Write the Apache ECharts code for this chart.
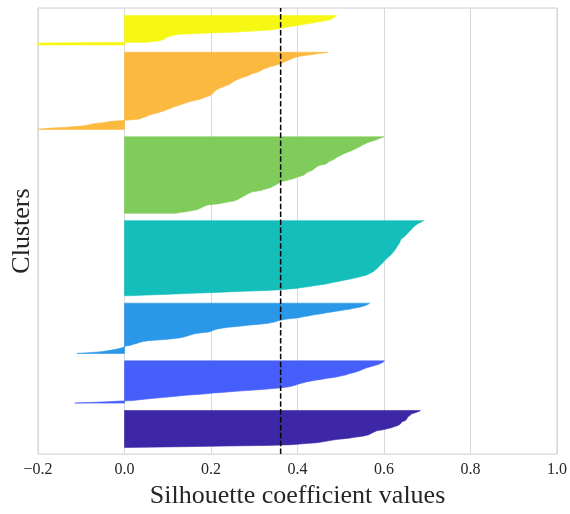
<!DOCTYPE html>
<html>
<head>
<meta charset="utf-8">
<script src="https://cdn.jsdelivr.net/npm/echarts@6/dist/echarts.min.js"></script>
<style>html,body{margin:0;padding:0;background:#fff}#chart{width:570px;height:514px}</style>
</head>
<body>
<div id="chart"></div>
<script>
// Sorted silhouette values per cluster (bottom cluster first)
var cluster0 = [0.01,0.13,0.23,0.33,0.385,0.405,0.425,0.445,0.455,0.465,0.472,0.482,0.494,0.508,0.522,0.531,0.542,0.553,0.56,0.565,0.568,0.571,0.574,0.577,0.581,0.585,0.595,0.603,0.609,0.615,0.62,0.625,0.629,0.633,0.636,0.638,0.639,0.64,0.641,0.645,0.649,0.651,0.652,0.653,0.654,0.655,0.656,0.659,0.661,0.662,0.664,0.669,0.674,0.678,0.682,0.684];
var cluster1 = [-0.115,-0.08,-0.04,-0.01,0.02,0.035,0.05,0.065,0.08,0.1,0.115,0.13,0.148,0.17,0.19,0.205,0.225,0.245,0.265,0.29,0.31,0.33,0.35,0.365,0.377,0.385,0.39,0.396,0.4,0.405,0.411,0.417,0.423,0.432,0.441,0.45,0.46,0.469,0.48,0.49,0.497,0.505,0.511,0.516,0.521,0.527,0.533,0.538,0.542,0.546,0.55,0.553,0.557,0.562,0.567,0.573,0.578,0.583,0.588,0.592,0.595,0.598,0.599,0.601];
var cluster2 = [-0.11,-0.085,-0.065,-0.05,-0.04,-0.03,-0.022,-0.014,-0.008,-0.004,-0.001,0.003,0.012,0.018,0.022,0.028,0.033,0.038,0.044,0.055,0.075,0.095,0.11,0.125,0.133,0.139,0.145,0.15,0.155,0.16,0.168,0.18,0.195,0.2,0.203,0.207,0.212,0.218,0.228,0.24,0.255,0.27,0.285,0.3,0.318,0.332,0.34,0.347,0.352,0.357,0.364,0.372,0.385,0.399,0.408,0.415,0.425,0.432,0.442,0.452,0.461,0.47,0.48,0.49,0.5,0.51,0.52,0.527,0.535,0.543,0.55,0.555,0.559,0.562,0.565,0.567];
var cluster3 = [0.01,0.05,0.09,0.13,0.17,0.21,0.25,0.29,0.33,0.36,0.38,0.397,0.407,0.418,0.428,0.438,0.45,0.459,0.468,0.476,0.484,0.491,0.499,0.507,0.514,0.522,0.529,0.536,0.542,0.548,0.554,0.56,0.563,0.566,0.569,0.572,0.575,0.577,0.579,0.581,0.583,0.584,0.586,0.588,0.589,0.59,0.592,0.593,0.595,0.597,0.598,0.6,0.601,0.602,0.604,0.606,0.607,0.609,0.611,0.612,0.614,0.616,0.617,0.619,0.62,0.621,0.623,0.624,0.625,0.626,0.627,0.628,0.629,0.63,0.631,0.632,0.633,0.634,0.635,0.636,0.637,0.637,0.638,0.638,0.639,0.641,0.643,0.645,0.647,0.648,0.65,0.652,0.653,0.654,0.656,0.657,0.659,0.66,0.662,0.663,0.665,0.666,0.668,0.669,0.671,0.673,0.675,0.677,0.68,0.683,0.686,0.689,0.692];
var cluster4 = [0.12,0.127,0.138,0.148,0.158,0.165,0.17,0.173,0.177,0.18,0.183,0.187,0.19,0.2,0.215,0.224,0.233,0.241,0.25,0.257,0.26,0.263,0.266,0.268,0.272,0.274,0.277,0.28,0.283,0.285,0.288,0.292,0.295,0.305,0.315,0.32,0.326,0.331,0.336,0.34,0.343,0.346,0.349,0.352,0.354,0.357,0.359,0.362,0.368,0.374,0.38,0.387,0.392,0.396,0.4,0.405,0.411,0.415,0.417,0.419,0.421,0.423,0.426,0.43,0.434,0.436,0.438,0.44,0.442,0.444,0.446,0.448,0.455,0.465,0.467,0.469,0.471,0.473,0.476,0.48,0.483,0.486,0.488,0.49,0.493,0.496,0.498,0.502,0.505,0.508,0.512,0.516,0.52,0.524,0.527,0.53,0.534,0.537,0.54,0.543,0.546,0.548,0.551,0.555,0.558,0.561,0.565,0.57,0.575,0.58,0.584,0.588,0.591,0.595,0.6];
var cluster5 = [-0.2,-0.19,-0.17,-0.14,-0.12,-0.1,-0.09,-0.08,-0.075,-0.065,-0.05,-0.04,-0.03,-0.01,0.01,0.03,0.037,0.04,0.045,0.05,0.053,0.056,0.061,0.067,0.072,0.078,0.083,0.088,0.093,0.096,0.101,0.106,0.109,0.112,0.116,0.121,0.126,0.13,0.135,0.139,0.144,0.149,0.155,0.162,0.168,0.174,0.18,0.183,0.186,0.191,0.196,0.199,0.201,0.203,0.205,0.206,0.207,0.209,0.21,0.213,0.216,0.219,0.222,0.226,0.23,0.234,0.238,0.242,0.245,0.247,0.249,0.252,0.254,0.257,0.26,0.263,0.267,0.272,0.276,0.281,0.286,0.289,0.292,0.295,0.3,0.306,0.31,0.313,0.316,0.319,0.322,0.326,0.331,0.335,0.34,0.346,0.351,0.357,0.361,0.364,0.368,0.371,0.375,0.378,0.382,0.385,0.389,0.393,0.398,0.405,0.415,0.425,0.438,0.448,0.46,0.47];
var cluster6 = [-0.2,-0.2,-0.2,-0.19,0.05,0.07,0.08,0.085,0.09,0.093,0.095,0.098,0.1,0.105,0.113,0.12,0.128,0.17,0.21,0.25,0.28,0.31,0.33,0.345,0.355,0.363,0.372,0.38,0.39,0.4,0.41,0.418,0.428,0.437,0.445,0.455,0.464,0.471,0.476,0.48,0.483,0.485,0.487,0.488,0.49];

var clusterValues = [cluster0, cluster1, cluster2, cluster3, cluster4, cluster5, cluster6];
var clusterColors = ['#3d27a7', '#465efa', '#2a97e8', '#14bebb', '#80cc5a', '#fbb940', '#f7f714'];
var silhouetteAvg = 0.361;
var xTicks = [-0.2, 0.0, 0.2, 0.4, 0.6, 0.8, 1.0];

var gap = 10;
var nTotal = 0;
clusterValues.forEach(function (c) { nTotal += c.length; });
var yMax = nTotal + (clusterValues.length + 1) * gap;

// y_lower positions for each cluster
var yLowers = [];
var yl = gap;
clusterValues.forEach(function (c) { yLowers.push(yl); yl += c.length + gap; });

var series = clusterValues.map(function (vals, k) {
  return {
    type: 'custom',
    coordinateSystem: 'cartesian2d',
    silent: true,
    clip: true,
    data: [[0, yLowers[k]]],
    encode: { x: 0, y: 1 },
    renderItem: function (params, api) {
      var base = yLowers[k];
      var pts = [api.coord([0, base])];
      for (var i = 0; i < vals.length; i++) pts.push(api.coord([vals[i], base + i]));
      pts.push(api.coord([0, base + vals.length - 1]));
      return {
        type: 'polygon',
        shape: { points: pts },
        style: { fill: clusterColors[k], stroke: clusterColors[k], lineWidth: 0.6 }
      };
    },
    z: 2
  };
});

series.push({
  type: 'line',
  data: [[silhouetteAvg, 0], [silhouetteAvg, yMax]],
  symbol: 'none',
  silent: true,
  lineStyle: { color: '#000', width: 1.5, type: [5.5, 2.4] },
  z: 5
});

var chart = echarts.init(document.getElementById('chart'), null, { renderer: 'canvas' });
chart.setOption({
  animation: false,
  backgroundColor: '#ffffff',
  grid: { left: 38, right: 13, top: 8, bottom: 54, show: true, borderColor: '#cccccc', borderWidth: 1, containLabel: false },
  xAxis: {
    type: 'value',
    min: xTicks[0], max: xTicks[xTicks.length - 1], interval: 0.2,
    axisLine: { show: false },
    axisTick: { show: false },
    axisLabel: {
      color: '#262626', fontFamily: 'Liberation Serif', fontSize: 16, margin: 8,
      formatter: function (v) { return v.toFixed(1).replace('-', '\u2212'); }
    },
    splitLine: { show: true, lineStyle: { color: '#d9d9d9', width: 1 } },
    name: 'Silhouette coefficient values',
    nameLocation: 'middle',
    nameGap: 21,
    nameTextStyle: { color: '#262626', fontFamily: 'Liberation Serif', fontSize: 26 }
  },
  yAxis: {
    type: 'value',
    min: 0, max: yMax,
    axisLine: { show: false },
    axisTick: { show: false },
    axisLabel: { show: false },
    splitLine: { show: false },
    name: 'Clusters',
    nameLocation: 'middle',
    nameGap: 3,
    nameTextStyle: { color: '#262626', fontFamily: 'Liberation Serif', fontSize: 26 }
  },
  series: series
});
</script>
</body>
</html>
